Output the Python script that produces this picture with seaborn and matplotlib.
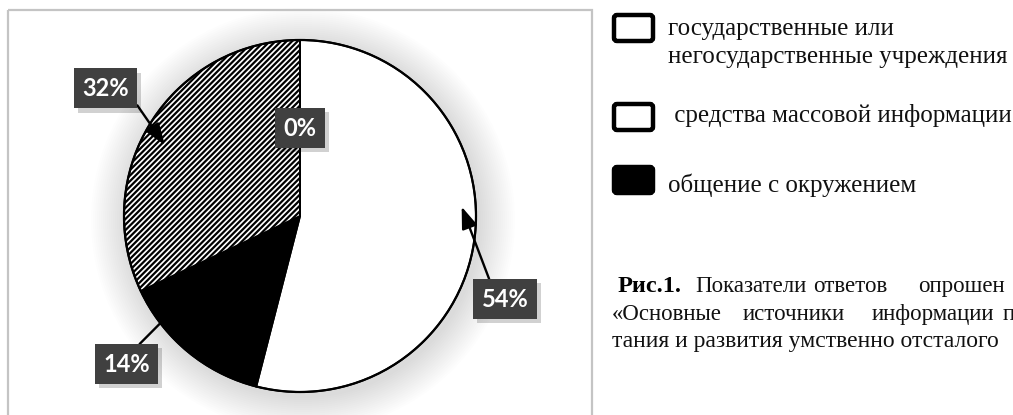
import numpy as np
import matplotlib
matplotlib.use("Agg")
import matplotlib.pyplot as plt
import matplotlib.patheffects as pe
from matplotlib.patches import Rectangle, FancyBboxPatch, Circle
import seaborn as sns

# data (clockwise from 12 o'clock)
shares = [54, 14, 32, 0]
share_labels = ["54%", "14%", "32%", "0%"]
slice_colors = ["white", "black", "white", "white"]
slice_hatches = ["", "", "//////", ""]

legend_labels = [
    "государственные или\nнегосударственные учреждения",
    " средства массовой информации",
    "общение с окружением",
]
legend_fills = ["white", "white", "black"]

caption_bold = "Рис.1."
caption_line1 = ["Показатели", "ответов", "опрошен"]
caption_line2 = ["«Основные", "источники", "информации", "п"]
caption_line3 = "тания и развития умственно отсталого"

sns.set_theme(style="white")
plt.rcParams["hatch.linewidth"] = 1.6
SERIF = ["Liberation Serif", "DejaVu Serif"]
LABEL_FONT = ["Lato", "DejaVu Sans"]

W, H = 1013, 415
fig = plt.figure(figsize=(W / 100, H / 100), dpi=100)
ax = fig.add_axes([0, 0, 1, 1])

# pie geometry in pixel units (y grows downward)
CX, CY, R = 300, 216, 176

# soft glow behind the pie
for k in range(18):
    ax.add_patch(Circle((CX + 3, CY + 4), R + 2 + k * 2.0, fc="black",
                        ec="none", alpha=0.009, zorder=0))

wedges, _ = ax.pie(
    shares,
    center=(CX, CY),
    radius=R,
    startangle=-90,
    counterclock=True,
    colors=slice_colors,
    hatch=slice_hatches,
    wedgeprops=dict(edgecolor="black", linewidth=1.4),
)
for w in wedges:
    w.set_zorder(2)
ax.add_patch(Circle((CX, CY), R, fc="none", ec="black", lw=1.6, zorder=3))

ax.set_xlim(0, W)
ax.set_ylim(H, 0)
ax.set_aspect("auto")
ax.axis("off")

# frame around the chart area
ax.add_patch(Rectangle((8, 10), 584, 430, fc="none", ec="#c4c4c4", lw=1.6, zorder=1))

# data labels: text centre, (position inside wedge, radius fraction), arrow start, arrow head
label_layout = [
    dict(xy=(505, 299), tip=(0.446, 0.92), rel=(0.23, 1.0), head=True),
    dict(xy=(126.5, 364), tip=(0.756, 1.0), rel=(0.6, 1.0), head=False),
    dict(xy=(105.5, 88.5), tip=(0.459, 0.867), rel=(1.0, 0.3), head=True),
    dict(xy=(300, 128), tip=None, rel=None, head=False),
]
for w, txt, lay in zip(wedges, share_labels, label_layout):
    kw = {}
    if lay["tip"] is not None:
        frac, rf = lay["tip"]
        th = np.deg2rad(w.theta1 + frac * (w.theta2 - w.theta1))
        tip = (CX + rf * R * np.cos(th), CY + rf * R * np.sin(th))
        kw["arrowprops"] = dict(
            arrowstyle="-|>,head_length=0.55,head_width=0.2" if lay["head"] else "-",
            color="black", lw=1.7, mutation_scale=24,
            relpos=lay["rel"], shrinkA=0, shrinkB=0,
        )
    else:
        tip = lay["xy"]
    t = ax.annotate(
        txt, xy=tip, xytext=lay["xy"], textcoords="data",
        ha="center", va="center", color="white", fontsize=17,
        fontweight="bold", family=LABEL_FONT, zorder=5,
        bbox=dict(boxstyle="square,pad=0.36", fc="#404040", ec="none"),
        **kw,
    )
    t.get_bbox_patch().set_path_effects(
        [pe.SimplePatchShadow(offset=(3, -3), shadow_rgbFace="black", alpha=0.18), pe.Normal()]
    )

# legend drawn by hand to the right of the frame
box_y = [15, 104, 167]
text_base = [[35, 63], [122], [192]]
for lab, fill, by, bases in zip(legend_labels, legend_fills, box_y, text_base):
    ax.add_patch(FancyBboxPatch((614, by), 39, 26,
                                boxstyle="round,pad=0,rounding_size=3",
                                fc=fill, ec="black", lw=3.2, zorder=4))
    for line, yb in zip(lab.split("\n"), bases):
        ax.text(668, yb, line, family=SERIF, fontsize=18, va="baseline",
                ha="left", color="#111111")

# caption (justified lines, cut by the right border as in the source)
ax.text(618, 292, caption_bold, family=SERIF, fontsize=17.5, fontweight="bold",
        va="baseline", ha="left", color="black")
for word, x in zip(caption_line1, [695, 813, 918]):
    ax.text(x, 292, word, family=SERIF, fontsize=16.5, va="baseline", ha="left", color="#111111")
for word, x in zip(caption_line2, [612, 743, 872, 1003]):
    ax.text(x, 320, word, family=SERIF, fontsize=16.5, va="baseline", ha="left", color="#111111")
ax.text(612, 347, caption_line3, family=SERIF, fontsize=17, va="baseline",
        ha="left", color="#111111")

fig.savefig("out.png", dpi=100)
